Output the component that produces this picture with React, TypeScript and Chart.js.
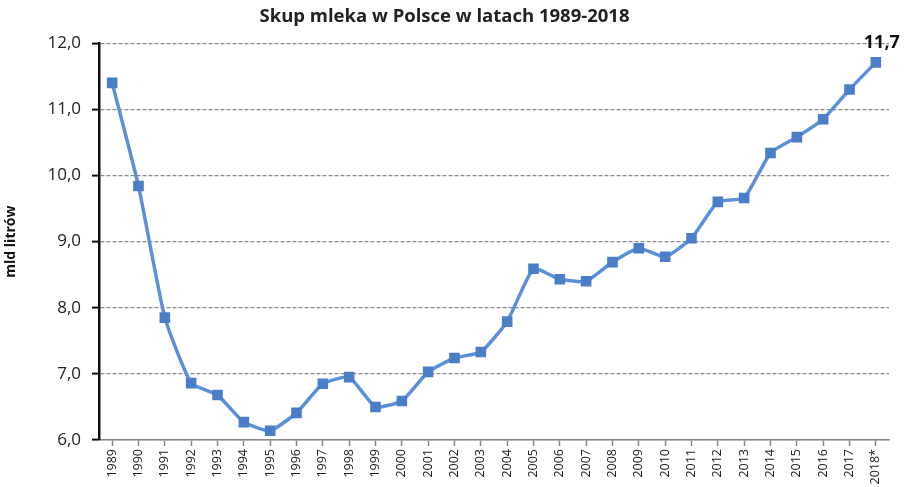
import React, { useEffect, useRef } from "react";
import { Chart, registerables } from "chart.js";

Chart.register(...registerables);

const years = ["1989","1990","1991","1992","1993","1994","1995","1996","1997","1998","1999","2000","2001","2002","2003","2004","2005","2006","2007","2008","2009","2010","2011","2012","2013","2014","2015","2016","2017","2018*"];
const milk = [11.4,9.84,7.85,6.86,6.68,6.27,6.14,6.41,6.85,6.95,6.5,6.59,7.03,7.24,7.33,7.79,8.59,8.43,8.4,8.69,8.9,8.77,9.05,9.6,9.66,10.34,10.58,10.85,11.3,11.71];
const yTicks = [6, 7, 8, 9, 10, 11, 12];
const lastLabel = "11,7";
const FONT = "'Open Sans', Lato, sans-serif";

const lastLabelPlugin = {
  id: "lastLabel",
  afterDatasetsDraw(chart: any) {
    const meta = chart.getDatasetMeta(0);
    const pt = meta.data[meta.data.length - 1];
    if (!pt) return;
    const ctx = chart.ctx;
    ctx.save();
    ctx.font = `bold 18px ${FONT}`;
    ctx.fillStyle = "#111";
    ctx.textAlign = "center";
    ctx.textBaseline = "middle";
    ctx.fillText(lastLabel, pt.x + 6, pt.y - 20);
    ctx.restore();
  },
};

export default function App() {
  const ref = useRef<HTMLCanvasElement | null>(null);
  useEffect(() => {
    document.body.style.margin = "0";
    const chart = new Chart(ref.current!, {
      type: "line",
      data: {
        labels: years,
        datasets: [
          {
            data: milk,
            borderColor: "#5b90d8",
            backgroundColor: "#4a7fc8",
            borderWidth: 3.5,
            pointStyle: "rect",
            pointRadius: 7.5,
            pointBackgroundColor: "#4a7fc8",
            pointBorderColor: "#4a7fc8",
            pointBorderWidth: 0,
            tension: 0.15,
          },
        ],
      },
      options: {
        animation: false,
        responsive: false,
        maintainAspectRatio: false,
        layout: { padding: { left: 0, right: 20, top: 0, bottom: 0 } },
        plugins: {
          legend: { display: false },
          tooltip: { enabled: false },
          title: {
            display: true,
            text: "Skup mleka w Polsce w latach 1989-2018",
            color: "#222",
            font: { family: FONT, size: 18.5, weight: "bold", lineHeight: 1.2 },
            padding: { top: 6, bottom: 15 },
          },
        },
        scales: {
          x: {
            offset: true,
            grid: {
              display: true,
              drawOnChartArea: false,
              drawTicks: true,
              tickLength: 6,
              tickColor: "#888",
              tickWidth: 1.5,
            },
            border: { color: "#888", width: 1.5 },
            ticks: {
              autoSkip: false,
              minRotation: 90,
              maxRotation: 90,
              color: "#222",
              font: { family: FONT, size: 12.5 },
              padding: 3,
            },
            afterFit(s: any) {
              s.height = 47;
            },
          },
          y: {
            min: 6,
            max: 12,
            afterBuildTicks(s: any) {
              s.ticks = yTicks.map((v) => ({ value: v }));
            },
            grid: {
              color: "#8a8a8a",
              lineWidth: 1.2,
              tickLength: 7,
              tickColor: "#111",
              tickWidth: 2,
              tickBorderDash: [],
            },
            border: { color: "#111", width: 2.5, dash: [4, 2] },
            ticks: {
              color: "#222",
              font: { family: FONT, size: 17 },
              padding: 11,
              callback: (v: any) => Number(v).toFixed(1).replace(".", ","),
            },
            title: {
              display: true,
              text: "mld litrów",
              color: "#111",
              font: { family: FONT, size: 14, weight: "bold" },
              padding: { top: 3, bottom: 0 },
            },
            afterFit(s: any) {
              s.width = 99;
            },
          },
        },
      },
      plugins: [lastLabelPlugin],
    });
    return () => chart.destroy();
  }, []);
  return (
    <div style={{ width: 909, height: 487, background: "#fff" }}>
      <canvas ref={ref} width={909} height={487} style={{ display: "block" }} />
    </div>
  );
}
